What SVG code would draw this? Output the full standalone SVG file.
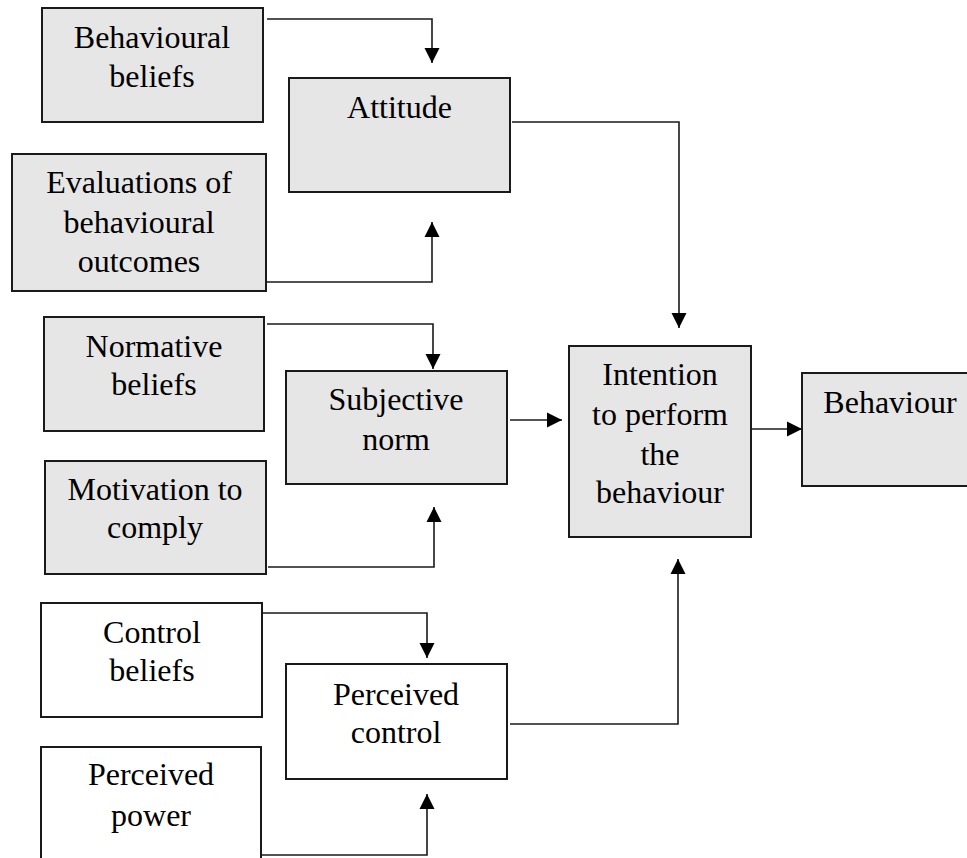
<svg xmlns="http://www.w3.org/2000/svg" width="967" height="858" viewBox="0 0 967 858">
<style>
.box{stroke:#1a1a1a;stroke-width:2}
.g{fill:#e6e6e6}
.w{fill:#ffffff}
text{font-size:32px;fill:#000;text-anchor:middle}
.c{fill:none;stroke:#1a1a1a;stroke-width:1.6}
</style>
<defs>
<marker id="ah" markerUnits="userSpaceOnUse" markerWidth="16" markerHeight="16" viewBox="0 0 16 16" refX="15" refY="8" orient="auto">
<path d="M0,0.5 L15,8 L0,15.5 Z" fill="#000"/>
</marker>
</defs>
<rect width="967" height="858" fill="#fff"/>
<g id="connectors">
<path class="c" d="M267,19 H432 V63" marker-end="url(#ah)"/>
<path class="c" d="M267,282 H432 V222" marker-end="url(#ah)"/>
<path class="c" d="M512,122 H679 V328" marker-end="url(#ah)"/>
<path class="c" d="M267,324 H433 V369" marker-end="url(#ah)"/>
<path class="c" d="M268,567 H434 V507" marker-end="url(#ah)"/>
<path class="c" d="M510,420 H562" marker-end="url(#ah)"/>
<path class="c" d="M751,429 H802" marker-end="url(#ah)"/>
<path class="c" d="M262,613 H427 V658" marker-end="url(#ah)"/>
<path class="c" d="M262,855 H427 V794" marker-end="url(#ah)"/>
<path class="c" d="M510,724 H678 V559" marker-end="url(#ah)"/>
</g>
<g font-family="Liberation Serif, Times New Roman, Tinos, Times, DejaVu Serif, serif">
<g id="behavioural-beliefs">
<rect class="box g" x="42" y="8" width="221" height="114"/>
<text x="152" y="48">Behavioural</text>
<text x="152" y="87">beliefs</text>
</g>
<g id="attitude">
<rect class="box g" x="289" y="78" width="221" height="114"/>
<text x="399.5" y="118">Attitude</text>
</g>
<g id="evaluations">
<rect class="box g" x="12" y="154" width="254" height="137"/>
<text x="139" y="193">Evaluations of</text>
<text x="139" y="233">behavioural</text>
<text x="139" y="272">outcomes</text>
</g>
<g id="normative-beliefs">
<rect class="box g" x="44" y="317" width="220" height="114"/>
<text x="154" y="357">Normative</text>
<text x="154" y="395">beliefs</text>
</g>
<g id="subjective-norm">
<rect class="box g" x="286" y="371" width="221" height="113"/>
<text x="396" y="410">Subjective</text>
<text x="396" y="450">norm</text>
</g>
<g id="motivation">
<rect class="box g" x="45" y="461" width="221" height="113"/>
<text x="155" y="500">Motivation to</text>
<text x="155" y="538">comply</text>
</g>
<g id="control-beliefs">
<rect class="box w" x="41" y="603" width="221" height="114"/>
<text x="152" y="643">Control</text>
<text x="152" y="681">beliefs</text>
</g>
<g id="perceived-control">
<rect class="box w" x="286" y="664" width="221" height="115"/>
<text x="396" y="705">Perceived</text>
<text x="396" y="743">control</text>
</g>
<g id="perceived-power">
<rect class="box w" x="41" y="747" width="220" height="130"/>
<text x="151" y="785">Perceived</text>
<text x="151" y="826">power</text>
</g>
<g id="intention">
<rect class="box g" x="569" y="346" width="182" height="191"/>
<text x="660" y="385">Intention</text>
<text x="660" y="425">to perform</text>
<text x="660" y="465">the</text>
<text x="660" y="503">behaviour</text>
</g>
<g id="behaviour">
<rect class="box g" x="802" y="373" width="175" height="113"/>
<text x="890" y="413">Behaviour</text>
</g>
</g>
</svg>
